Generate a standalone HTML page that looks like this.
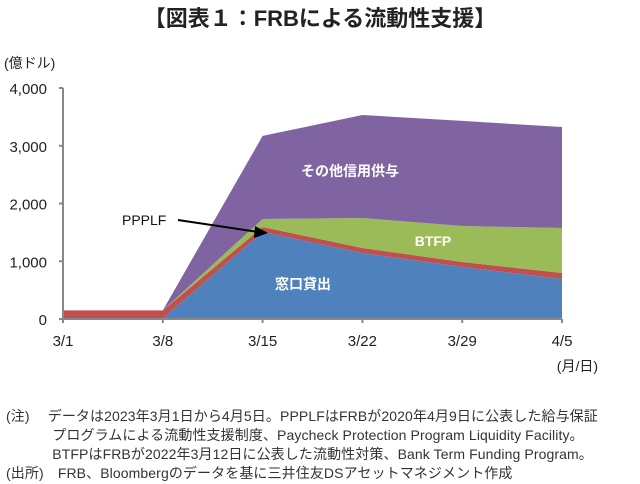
<!DOCTYPE html>
<html><head><meta charset="utf-8"><style>
body{margin:0;background:#fff;width:640px;height:484px;overflow:hidden;font-family:"Liberation Sans","Noto Sans CJK JP",sans-serif;}
svg text{font-family:"Liberation Sans","Noto Sans CJK JP",sans-serif;}
.note{position:absolute;left:6px;font-size:14px;color:#333;line-height:19px;white-space:nowrap;letter-spacing:0.1px;}
</style></head><body>
<svg width="640" height="484" style="position:absolute;left:0;top:0">
<text x="320" y="26" text-anchor="middle" font-size="22" font-weight="bold" fill="#222">【図表１：FRBによる流動性支援】</text>
<text x="4" y="68" font-size="14" fill="#222">(億ドル)</text>
<g id="areas"></g>
<g id="axes"></g>
<text x="350" y="176" text-anchor="middle" font-size="14" font-weight="bold" fill="#fff">その他信用供与</text>
<text x="433" y="246" text-anchor="middle" font-size="14" font-weight="bold" fill="#fff">BTFP</text>
<text x="303" y="289" text-anchor="middle" font-size="14" font-weight="bold" fill="#fff">窓口貸出</text>
<text x="122" y="225" font-size="14" fill="#111">PPPLF</text>
<line x1="178" y1="220" x2="258" y2="232" stroke="#000" stroke-width="2"/>
<polygon points="268,233 255,226 254,238" fill="#000"/>
<text x="598" y="371" text-anchor="end" font-size="14" fill="#222">(月/日)</text>
</svg>
<div class="note" style="top:407px">(注)　 データは2023年3月1日から4月5日。PPPLFはFRBが2020年4月9日に公表した給与保証<br>　　　 プログラムによる流動性支援制度、Paycheck Protection Program Liquidity Facility。<br>　　　 BTFPはFRBが2022年3月12日に公表した流動性対策、Bank Term Funding Program。<br>(出所)　FRB、Bloombergのデータを基に三井住友DSアセットマネジメント作成</div>
<script>
const categories=["3/1","3/8","3/15","3/22","3/29","4/5"];
const discountWindow=[10,10,1506,1143,900,693];
const ppplf=[140,140,87,87,87,104];
const btfp=[0,0,139,519,623,779];
const otherCredit=[0,0,1438,1783,1820,1749];
const yTicks=[0,1000,2000,3000,4000];
const yTickLabels=["0","1,000","2,000","3,000","4,000"];
const NS="http://www.w3.org/2000/svg";
const x0=63,x1=562,y0=319,yTop=88;
function xs(i){return x0+(x1-x0)*i/(categories.length-1);}
function ys(v){return y0-(y0-yTop)*v/4000;}
const series=[[discountWindow,"#4f81bd","area-discount-window"],[ppplf,"#c0504d","area-ppplf"],[btfp,"#9bbb59","area-btfp"],[otherCredit,"#8064a2","area-other-credit"]];
let base=categories.map(()=>0);
const ga=document.getElementById("areas");
series.forEach(s=>{
  const top=base.map((b,i)=>b+s[0][i]);
  let pts=top.map((v,i)=>xs(i)+","+ys(v));
  for(let i=categories.length-1;i>=0;i--)pts.push(xs(i)+","+ys(base[i]));
  const p=document.createElementNS(NS,"polygon");
  p.setAttribute("points",pts.join(" "));
  p.setAttribute("fill",s[1]);
  
  
  ga.appendChild(p);
  base=top;
});
const gx=document.getElementById("axes");
function el(tag,attrs){const e=document.createElementNS(NS,tag);for(const k in attrs)e.setAttribute(k,attrs[k]);gx.appendChild(e);return e;}
let a=el("line",{x1:x0,y1:yTop,x2:x0,y2:y0,stroke:"#888","stroke-width":2});


a=el("line",{x1:x0,y1:y0,x2:x1,y2:y0,stroke:"#888","stroke-width":2});


yTicks.forEach((v,i)=>{
  const t=el("line",{x1:x0-4,y1:ys(v),x2:x0,y2:ys(v),stroke:"#888","stroke-width":2});
  
  
  const l=el("text",{x:47,y:ys(v)+6,"text-anchor":"end","font-size":15,fill:"#222"});
  l.textContent=yTickLabels[i];
  
  
});
categories.forEach((c,i)=>{
  const t=el("line",{x1:xs(i),y1:y0,x2:xs(i),y2:y0+4,stroke:"#888","stroke-width":2});
  
  
  const l=el("text",{x:xs(i),y:y0+27,"text-anchor":"middle","font-size":15,fill:"#222"});
  l.textContent=c;
  
  
});
</script>
</body></html>
